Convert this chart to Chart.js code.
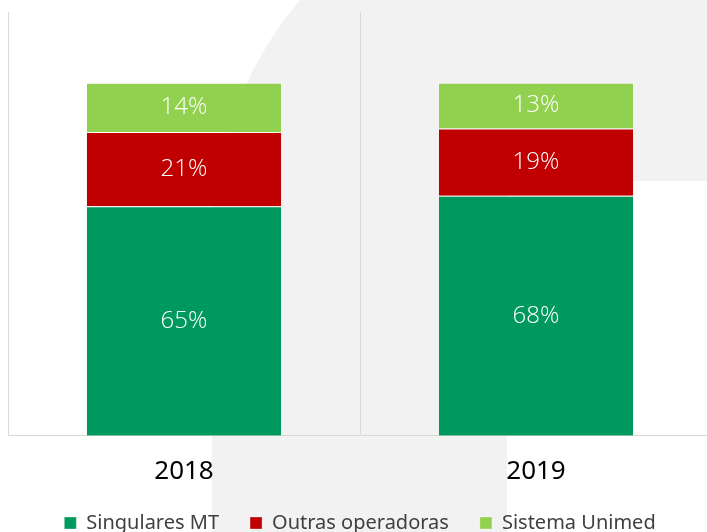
<!DOCTYPE html>
<html>
<head>
<meta charset="utf-8">
<script src="https://cdn.jsdelivr.net/npm/chart.js@4"></script>
<style>
  html, body { margin: 0; padding: 0; background: #fff; overflow: hidden; }
  #wrap { width: 712px; height: 532px; }
</style>
</head>
<body>
<div id="wrap"><canvas id="myChart" width="712" height="532"></canvas></div>
<script>
// Categorias e valores (%)
const anos = ["2018", "2019"];
const singulares = [65, 68];
const outras = [21, 19];
const sistema = [14, 13];

const nomes = ["Singulares MT", "Outras operadoras", "Sistema Unimed"];
const cores = ["#00995D", "#C00000", "#92D050"];

// Fundo: forma cinza decorativa
const fundoPlugin = {
    id: "fundo",
    beforeDraw(chart) {
        const ctx = chart.ctx;
        ctx.save();
        ctx.fillStyle = "#ffffff";
        ctx.fillRect(0, 0, chart.width, chart.height);

        const cx = 585.7, cy = 240.9, r = 373.7;
        ctx.fillStyle = "#F2F2F2";
        ctx.beginPath();
        ctx.moveTo(212, chart.height);
        ctx.lineTo(212, cy);
        ctx.arc(cx, cy, r, Math.PI, Math.PI + 0.7007, false);
        ctx.lineTo(chart.width, 0);
        ctx.lineTo(chart.width, 181);
        ctx.lineTo(507, 181);
        ctx.lineTo(507, chart.height);
        ctx.closePath();
        ctx.fill();
        ctx.restore();
    }
};

// Legenda mais baixa
const legendaPlugin = {
    id: "legendaBaixa",
    beforeInit(chart) {
        const fitOriginal = chart.legend.fit;
        chart.legend.fit = function fit() {
            fitOriginal.bind(chart.legend)();
            this.height -= 11;
        };
    }
};

// Rotulos de porcentagem dentro das barras
const rotulosPlugin = {
    id: "rotulos",
    afterDatasetsDraw(chart) {
        const ctx = chart.ctx;
        ctx.save();
        ctx.fillStyle = "#ffffff";
        ctx.font = "300 24px 'Open Sans', 'Noto Sans', sans-serif";
        ctx.textAlign = "center";
        ctx.textBaseline = "middle";
        chart.data.datasets.forEach((ds, i) => {
            const meta = chart.getDatasetMeta(i);
            meta.data.forEach((bar, j) => {
                const y = (bar.y + bar.base) / 2;
                ctx.fillText(ds.data[j] + "%", bar.x, y);
            });
        });
        ctx.restore();
    }
};

const datasets = [singulares, outras, sistema].map((valores, i) => ({
    label: nomes[i],
    data: valores,
    backgroundColor: cores[i],
    borderColor: "rgba(255,255,255,0.3)",
    borderWidth: 1,
    categoryPercentage: 1,
    barPercentage: 0.557
}));

new Chart(document.getElementById("myChart"), {
    type: "bar",
    data: { labels: anos, datasets: datasets },
    options: {
        responsive: false,
        animation: false,
        devicePixelRatio: 1,
        layout: { padding: { left: 8, right: 0, top: 12, bottom: 0 } },
        plugins: {
            tooltip: { enabled: false },
            legend: {
                position: "bottom",
                labels: {
                    boxWidth: 12,
                    boxHeight: 12,
                    padding: 31,
                    color: "#404040",
                    font: { family: "'Noto Sans', sans-serif", size: 20 }
                }
            }
        },
        scales: {
            x: {
                stacked: true,
                grid: { color: "#D9D9D9", drawTicks: false, offset: true },
                border: { color: "#D9D9D9" },
                ticks: {
                    padding: 20,
                    color: "#000000",
                    font: { family: "'Noto Sans', sans-serif", size: 26 }
                },
                afterFit(scale) {
                    scale.height -= 25;
                }
            },
            y: {
                stacked: true,
                display: false,
                min: 0,
                max: 120
            }
        }
    },
    plugins: [fundoPlugin, legendaPlugin, rotulosPlugin]
});
</script>
</body>
</html>
